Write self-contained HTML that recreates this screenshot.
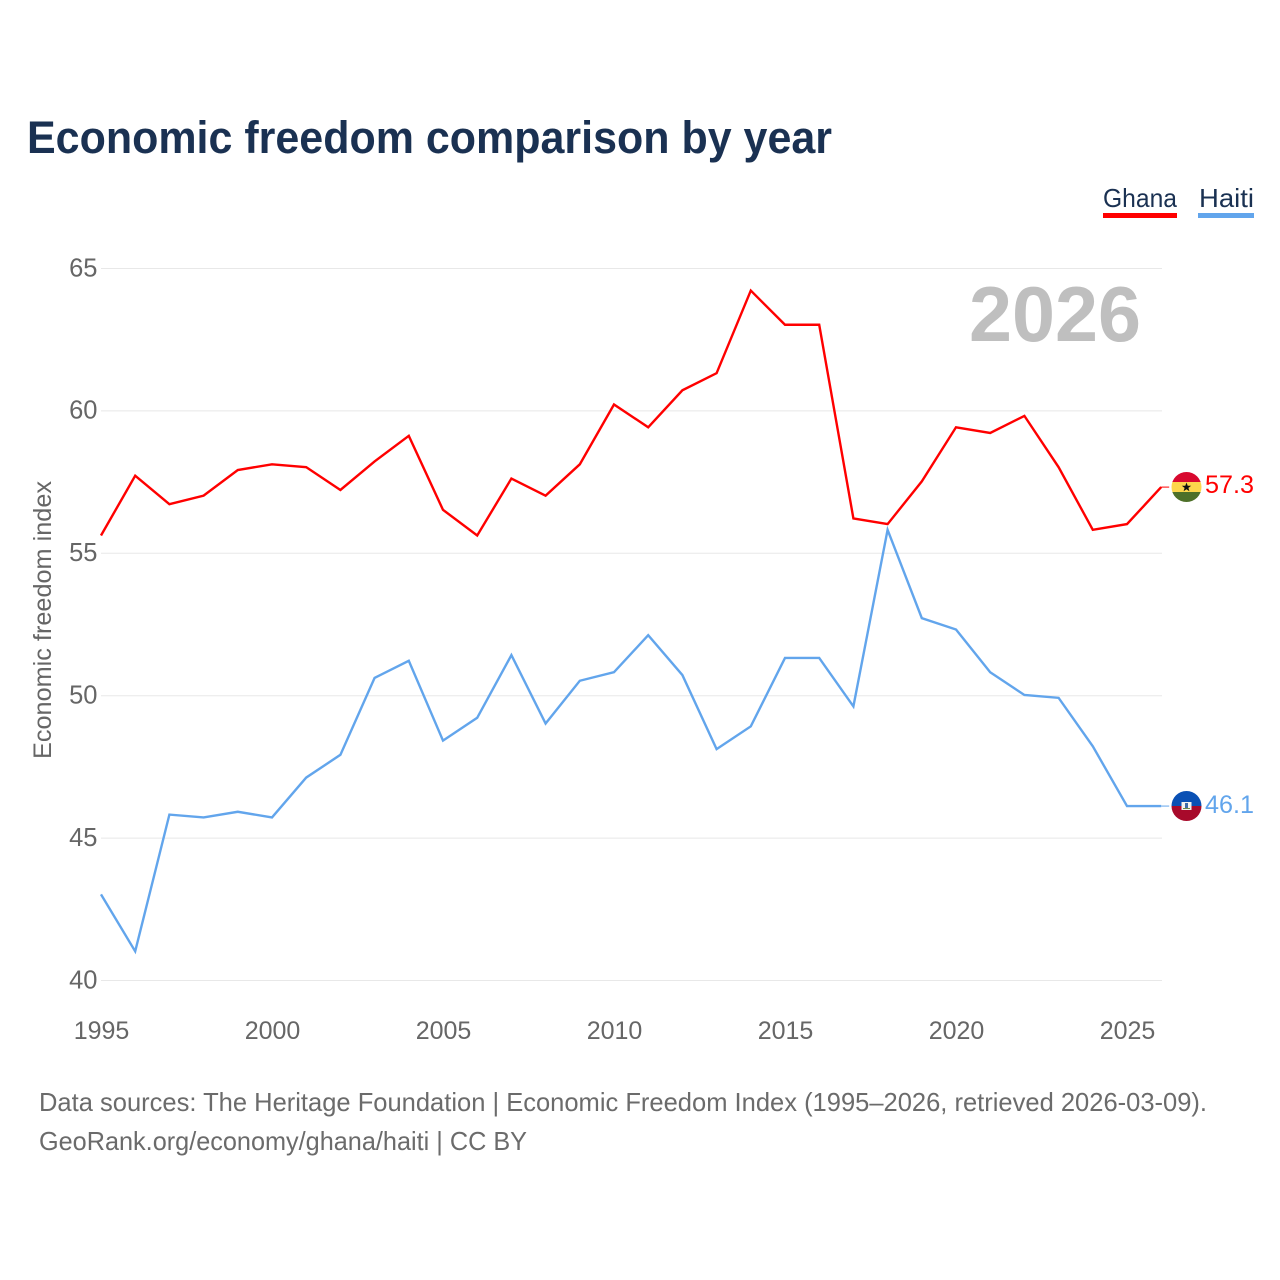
<!DOCTYPE html>
<html lang="en">
<head>
<meta charset="utf-8">
<title>Economic freedom comparison by year</title>
<style>
html,body{margin:0;padding:0;background:#fff;width:1280px;height:1280px;overflow:hidden}
svg{display:block}
text{font-family:"Liberation Sans",sans-serif}
</style>
</head>
<body>
<svg id="chart" xmlns="http://www.w3.org/2000/svg" width="1280" height="1280" viewBox="0 0 1280 1280">
  <text x="27" y="153" font-size="45" font-weight="700" fill="#1a3152" textLength="805" lengthAdjust="spacingAndGlyphs">Economic freedom comparison by year</text>

  <g>
    <g>
      <text x="1103" y="207" font-size="26" fill="#1a3152" textLength="74" lengthAdjust="spacingAndGlyphs">Ghana</text>
      <rect x="1103" y="213" width="74" height="5" fill="#ff0000"/>
    </g>
    <g>
      <text x="1199" y="207" font-size="26" fill="#1a3152" textLength="55" lengthAdjust="spacingAndGlyphs">Haiti</text>
      <rect x="1198" y="213" width="56" height="5" fill="#62a5ec"/>
    </g>
  </g>

  <g id="grid"></g>
  <g id="y-ticks"></g>
  <g id="x-ticks"></g>

  <text transform="translate(51,759) rotate(-90)" font-size="25" fill="#666666" textLength="278" lengthAdjust="spacingAndGlyphs">Economic freedom index</text>

  <text x="969" y="341" font-size="78" font-weight="700" fill="#bfbfbf" textLength="172" lengthAdjust="spacingAndGlyphs">2026</text>

  <g id="series"></g>

  <g>
    <clipPath id="clip-ghana"><circle cx="1186.5" cy="487" r="15"/></clipPath>
    <g clip-path="url(#clip-ghana)">
      <rect x="1171" y="471" width="31" height="11" fill="#d8092f"/>
      <rect x="1171" y="482" width="31" height="10" fill="#fdd64c"/>
      <rect x="1171" y="492" width="31" height="11" fill="#4e7029"/>
      <polygon points="1186.5,482.5 1187.7,485.8 1191.2,485.8 1188.4,487.9 1189.4,491.2 1186.5,489.2 1183.6,491.2 1184.6,487.9 1181.8,485.8 1185.3,485.8" fill="#111111"/>
    </g>
  </g>
  <g>
    <clipPath id="clip-haiti"><circle cx="1186.5" cy="806" r="15"/></clipPath>
    <g clip-path="url(#clip-haiti)">
      <rect x="1171" y="790" width="31" height="16" fill="#0a50b4"/>
      <rect x="1171" y="806" width="31" height="16" fill="#a80a2b"/>
      <rect x="1181.5" y="802" width="10" height="8" fill="#f2f2ee"/>
      <rect x="1185" y="803" width="3" height="5" fill="#3d6ca8"/>
      <rect x="1183" y="808" width="7" height="1" fill="#6e8a4a"/>
    </g>
  </g>

  <text id="end-label-ghana" x="1205" y="493" font-size="25" fill="#ff0000" textLength="49" lengthAdjust="spacingAndGlyphs"></text>
  <text id="end-label-haiti" x="1205" y="813" font-size="25" fill="#62a5ec" textLength="49" lengthAdjust="spacingAndGlyphs"></text>

  <text x="39" y="1111" font-size="26" fill="#6b6b6b" textLength="1168" lengthAdjust="spacingAndGlyphs">Data sources: The Heritage Foundation | Economic Freedom Index (1995–2026, retrieved 2026-03-09).</text>
  <text x="39" y="1150" font-size="26" fill="#6b6b6b" textLength="488" lengthAdjust="spacingAndGlyphs">GeoRank.org/economy/ghana/haiti | CC BY</text>
</svg>
<script>
const years = [1995,1996,1997,1998,1999,2000,2001,2002,2003,2004,2005,2006,2007,2008,2009,2010,2011,2012,2013,2014,2015,2016,2017,2018,2019,2020,2021,2022,2023,2024,2025,2026];
const ghana = [55.6,57.7,56.7,57.0,57.9,58.1,58.0,57.2,58.2,59.1,56.5,55.6,57.6,57.0,58.1,60.2,59.4,60.7,61.3,64.2,63.0,63.0,56.2,56.0,57.5,59.4,59.2,59.8,58.0,55.8,56.0,57.3];
const haiti = [43.0,41.0,45.8,45.7,45.9,45.7,47.1,47.9,50.6,51.2,48.4,49.2,51.4,49.0,50.5,50.8,52.1,50.7,48.1,48.9,51.3,51.3,49.6,55.8,52.7,52.3,50.8,50.0,49.9,48.2,46.1,46.1];
const yTicks = [40,45,50,55,60,65];
const xTicks = [1995,2000,2005,2010,2015,2020,2025];

const NS = 'http://www.w3.org/2000/svg';
const xScale = function (year) { return 101 + (year - 1995) * 34.2; };
const yScale = function (value) { return 979.8 - (value - 40) * 28.48; };

const grid = document.getElementById('grid');
const yGroup = document.getElementById('y-ticks');
const xGroup = document.getElementById('x-ticks');
const seriesGroup = document.getElementById('series');

yTicks.forEach(function (tick) {
  const line = document.createElementNS(NS, 'line');
  
  
  line.setAttribute('x1', 101);
  line.setAttribute('x2', 1162);
  line.setAttribute('y1', yScale(tick) + 0.7);
  line.setAttribute('y2', yScale(tick) + 0.7);
  line.setAttribute('stroke', '#e8e8e8');
  line.setAttribute('stroke-width', 1);
  grid.appendChild(line);

  const label = document.createElementNS(NS, 'text');
  
  
  label.setAttribute('x', 97.5);
  label.setAttribute('y', yScale(tick) + 8.5);
  label.setAttribute('text-anchor', 'end');
  label.setAttribute('font-size', 25.5);
  label.setAttribute('fill', '#666666');
  label.textContent = tick;
  yGroup.appendChild(label);
});

xTicks.forEach(function (tick) {
  const label = document.createElementNS(NS, 'text');
  
  
  label.setAttribute('x', xScale(tick) + 0.5);
  label.setAttribute('y', 1039);
  label.setAttribute('text-anchor', 'middle');
  label.setAttribute('font-size', 25);
  label.setAttribute('fill', '#666666');
  label.textContent = tick;
  xGroup.appendChild(label);
});

function pointsFor(values) {
  const pts = values.map(function (v, i) { return xScale(years[i]) + ',' + yScale(v); });
  return pts.join(' ');
}

function lastValue(values) { return values[values.length - 1]; }

const haitiLine = document.createElementNS(NS, 'polyline');


haitiLine.setAttribute('points', pointsFor(haiti));
haitiLine.setAttribute('fill', 'none');
haitiLine.setAttribute('stroke', '#62a5ec');
haitiLine.setAttribute('stroke-width', 2.4);
seriesGroup.appendChild(haitiLine);

const ghanaLine = document.createElementNS(NS, 'polyline');


ghanaLine.setAttribute('points', pointsFor(ghana));
ghanaLine.setAttribute('fill', 'none');
ghanaLine.setAttribute('stroke', '#ff0000');
ghanaLine.setAttribute('stroke-width', 2.4);
seriesGroup.appendChild(ghanaLine);

const haitiLeader = document.createElementNS(NS, 'line');


haitiLeader.setAttribute('x1', xScale(2026));
haitiLeader.setAttribute('x2', xScale(2026) + 8);
haitiLeader.setAttribute('y1', yScale(lastValue(haiti)));
haitiLeader.setAttribute('y2', yScale(lastValue(haiti)));
haitiLeader.setAttribute('stroke', '#62a5ec');
haitiLeader.setAttribute('stroke-width', 1);
seriesGroup.appendChild(haitiLeader);

const ghanaLeader = document.createElementNS(NS, 'line');


ghanaLeader.setAttribute('x1', xScale(2026));
ghanaLeader.setAttribute('x2', xScale(2026) + 8);
ghanaLeader.setAttribute('y1', yScale(lastValue(ghana)));
ghanaLeader.setAttribute('y2', yScale(lastValue(ghana)));
ghanaLeader.setAttribute('stroke', '#ff0000');
ghanaLeader.setAttribute('stroke-width', 1);
seriesGroup.appendChild(ghanaLeader);

document.getElementById('end-label-ghana').textContent = lastValue(ghana).toFixed(1);
document.getElementById('end-label-haiti').textContent = lastValue(haiti).toFixed(1);
</script>
</body>
</html>
